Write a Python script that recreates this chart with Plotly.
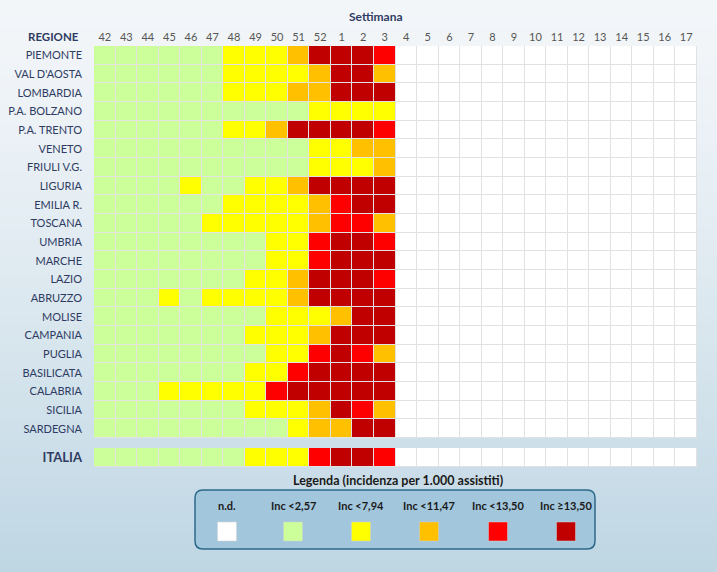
import plotly.graph_objects as go

weeks = ["42","43","44","45","46","47","48","49","50","51","52","1","2","3",
         "4","5","6","7","8","9","10","11","12","13","14","15","16","17"]
regions = ["PIEMONTE","VAL D'AOSTA","LOMBARDIA","P.A. BOLZANO","P.A. TRENTO","VENETO",
           "FRIULI V.G.","LIGURIA","EMILIA R.","TOSCANA","UMBRIA","MARCHE","LAZIO",
           "ABRUZZO","MOLISE","CAMPANIA","PUGLIA","BASILICATA","CALABRIA","SICILIA","SARDEGNA"]
# classes: 0=n.d., 1=<2,57, 2=<7,94, 3=<11,47, 4=<13,50, 5=>=13,50 (weeks 42..3)
piemonte    = [1,1,1,1,1,1,2,2,2,3,5,5,5,4]
val_aosta   = [1,1,1,1,1,1,2,2,2,2,3,5,5,3]
lombardia   = [1,1,1,1,1,1,2,2,2,3,3,5,5,5]
bolzano     = [1,1,1,1,1,1,1,1,1,1,2,2,2,2]
trento      = [1,1,1,1,1,1,2,2,3,5,5,5,5,4]
veneto      = [1,1,1,1,1,1,1,1,1,1,2,2,3,3]
friuli      = [1,1,1,1,1,1,1,1,1,1,2,2,2,3]
liguria     = [1,1,1,1,2,1,1,2,2,3,5,5,5,5]
emilia      = [1,1,1,1,1,1,2,2,2,2,3,4,5,5]
toscana     = [1,1,1,1,1,2,2,2,2,2,3,4,4,3]
umbria      = [1,1,1,1,1,1,1,1,2,2,4,5,5,4]
marche      = [1,1,1,1,1,1,1,1,2,2,4,5,5,5]
lazio       = [1,1,1,1,1,1,1,2,2,3,5,5,5,4]
abruzzo     = [1,1,1,2,1,2,2,2,2,3,5,5,5,5]
molise      = [1,1,1,1,1,1,1,1,2,2,2,3,5,5]
campania    = [1,1,1,1,1,1,1,2,2,2,3,5,5,5]
puglia      = [1,1,1,1,1,1,1,1,2,2,4,5,4,3]
basilicata  = [1,1,1,1,1,1,1,2,2,4,5,5,5,5]
calabria    = [1,1,1,2,2,2,2,2,4,5,5,5,5,5]
sicilia     = [1,1,1,1,1,1,1,2,2,2,3,5,4,3]
sardegna    = [1,1,1,1,1,1,1,1,1,2,3,3,5,5]
italia      = [1,1,1,1,1,1,1,2,2,2,4,5,5,4]

class_colors = ["#ffffff","#ccff99","#ffff00","#ffc000","#ff0000","#c00000"]
class_labels = ["n.d.","Inc <2,57","Inc <7,94","Inc <11,47","Inc <13,50","Inc ≥13,50"]

n_missing = len(weeks) - len(piemonte)
rows = [piemonte,val_aosta,lombardia,bolzano,trento,veneto,friuli,liguria,emilia,toscana,
        umbria,marche,lazio,abruzzo,molise,campania,puglia,basilicata,calabria,sicilia,sardegna]
z_reg = [r + [0]*n_missing for r in rows]
z_ita = [italia + [0]*n_missing]

cs = []
n = len(class_colors)
for i, c in enumerate(class_colors):
    cs.append([i/n, c]); cs.append([(i+1)/n, c])

FONT = "Lato, 'Open Sans', sans-serif"
TXT = "#2e3b63"

fig = go.Figure()
fig.add_trace(go.Heatmap(z=z_reg, x=weeks, y=regions, zmin=-0.5, zmax=5.5, colorscale=cs,
                         showscale=False, xgap=1, ygap=1, hoverinfo="skip",
                         xaxis="x", yaxis="y"))
fig.add_trace(go.Heatmap(z=z_ita, x=weeks, y=["ITALIA"], zmin=-0.5, zmax=5.5, colorscale=cs,
                         showscale=False, xgap=1, ygap=1, hoverinfo="skip",
                         xaxis="x2", yaxis="y2"))

L, R, T, B = 94, 20, 46, 105
W, H = 717, 572
pw, ph = W - L - R, H - T - B
def px(x): return (x - L) / pw
def py(y): return (H - B - y) / ph

shapes = []
# background gradient bands
nb = 60
def mix(a, b, t):
    return "#%02x%02x%02x" % tuple(round(a[k] + (b[k]-a[k])*t) for k in range(3))
top_c, bot_c = (243, 246, 249), (190, 214, 227)
for i in range(nb):
    y0 = i / nb; y1 = (i + 1) / nb
    t = ((i + 0.5) / nb) ** 1.3
    shapes.append(dict(type="rect", xref="paper", yref="paper",
                       x0=px(0), x1=px(W), y0=py(H*y0), y1=py(H*y1 + 1),
                       fillcolor=mix(top_c, bot_c, t), line_width=0, layer="below"))
# grid backgrounds (gap color)
shapes.append(dict(type="rect", xref="paper", yref="paper", x0=0, x1=1,
                   y0=py(438), y1=1, fillcolor="#e2e2e2", line_width=0, layer="below"))
shapes.append(dict(type="rect", xref="paper", yref="paper", x0=0, x1=1,
                   y0=0, y1=py(448), fillcolor="#e2e2e2", line_width=0, layer="below"))

# legend box (rounded)
bx0, bx1, by0, by1, rr = 195, 595, 490, 549, 8
def P(x, y): return f"{px(x)},{py(y)}"
path = (f"M {P(bx0+rr,by0)} L {P(bx1-rr,by0)} Q {P(bx1,by0)} {P(bx1,by0+rr)} "
        f"L {P(bx1,by1-rr)} Q {P(bx1,by1)} {P(bx1-rr,by1)} L {P(bx0+rr,by1)} "
        f"Q {P(bx0,by1)} {P(bx0,by1-rr)} L {P(bx0,by0+rr)} Q {P(bx0,by0)} {P(bx0+rr,by0)} Z")
shapes.append(dict(type="path", xref="paper", yref="paper", path=path,
                   fillcolor="#a2c6db", line=dict(color="#2c6a8a", width=1.5)))

annotations = []
item_x = [227, 293, 361, 429, 498, 566]
for cx, col, lab in zip(item_x, class_colors, class_labels):
    shapes.append(dict(type="rect", xref="paper", yref="paper",
                       x0=px(cx-9.5), x1=px(cx+9.5), y0=py(541), y1=py(522),
                       fillcolor=col, line=dict(color="#d0d0d0", width=0.5)))
    annotations.append(dict(xref="paper", yref="paper", x=px(cx), y=py(505), text=f"<b>{lab}</b>",
                            showarrow=False, font=dict(size=11, color="#1a1a1a", family=FONT),
                            xanchor="center", yanchor="middle"))
annotations.append(dict(xref="paper", yref="paper", x=px(398), y=py(480),
                        text="<b>Legenda (incidenza per 1.000 assistiti)</b>", showarrow=False,
                        font=dict(size=12.5, color="#1a1a1a", family=FONT),
                        xanchor="center", yanchor="middle"))
annotations.append(dict(xref="paper", yref="paper", x=px(376), y=py(17),
                        text="<b>Settimana</b>", showarrow=False,
                        font=dict(size=12, color=TXT, family=FONT),
                        xanchor="center", yanchor="middle"))
annotations.append(dict(xref="paper", yref="paper", x=px(81), y=py(37),
                        text="<b>REGIONE</b>", showarrow=False,
                        font=dict(size=11.5, color=TXT, family=FONT),
                        xanchor="right", yanchor="middle"))

fig.update_layout(
    width=W, height=H, margin=dict(l=L, r=R, t=T, b=B, autoexpand=False),
    paper_bgcolor="#eef3f7", plot_bgcolor="rgba(0,0,0,0)",
    font=dict(family=FONT, color=TXT, size=11),
    shapes=shapes, annotations=annotations, showlegend=False,
    xaxis=dict(domain=[0, 1], side="top", type="category", showgrid=False, zeroline=False,
               ticks="", tickfont=dict(size=11, color="#555555", family=FONT),
               ticklabelstandoff=2, anchor="y", fixedrange=True, automargin=False),
    yaxis=dict(domain=[py(438), 1], type="category", autorange="reversed", showgrid=False,
               zeroline=False, ticks="", tickfont=dict(size=11, color=TXT, family=FONT),
               ticklabelstandoff=11, anchor="x", fixedrange=True, automargin=False),
    xaxis2=dict(domain=[0, 1], anchor="y2", showticklabels=False, showgrid=False,
                zeroline=False, type="category", matches="x", fixedrange=True,
                automargin=False),
    yaxis2=dict(domain=[0, py(448)], type="category", showgrid=False, zeroline=False,
                ticks="", tickfont=dict(size=13, color=TXT, family=FONT),
                ticklabelstandoff=11, anchor="x2", fixedrange=True, tickprefix="<b>",
                ticksuffix="</b>", automargin=False),
)

fig.write_html("out.html", config={"displayModeBar": False},
               post_script="document.body.style.margin='0';document.body.style.overflow='hidden';")
